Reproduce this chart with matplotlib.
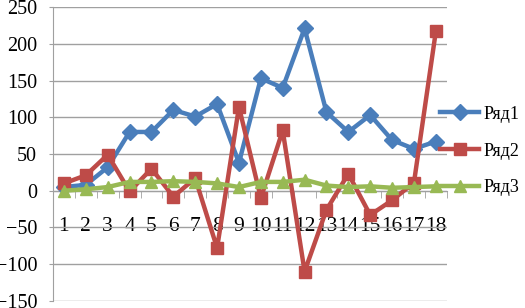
import matplotlib.pyplot as plt
from matplotlib.ticker import MultipleLocator, FixedLocator

categories = [str(i) for i in range(1, 19)]
row1 = [5, 8, 32, 80, 80, 110, 101, 118, 38, 153, 140, 221, 107, 80, 103, 69, 57, 67]
row2 = [10, 21, 49, -1, 30, -8, 17, -78, 114, -10, 82, -110, -26, 23, -33, -13, 11, 217]
row3 = [0, 2, 5, 12, 12, 13, 12, 10, 5, 12, 12, 15, 7, 5, 6, 4, 5, 6]
series_names = ["Ряд1", "Ряд2", "Ряд3"]

plt.rcParams["font.family"] = ["Liberation Serif", "DejaVu Serif"]

fig = plt.figure(figsize=(5.25, 3.08), dpi=100)
ax = fig.add_axes([0.101, 0.023, 0.750, 0.954])

x = list(range(len(categories)))
ax.plot(x, row1, color="#4A7EBB", lw=3.2, marker="D", ms=8, label=series_names[0], zorder=3)
ax.plot(x, row2, color="#BE4B48", lw=3.2, marker="s", ms=9, label=series_names[1], zorder=4)
ax.plot(x, row3, color="#98B954", lw=3.2, marker="^", ms=9, label=series_names[2], zorder=5)

ax.set_xlim(-0.5, len(categories) - 0.5)
ax.set_ylim(-150, 250)
ax.yaxis.set_major_locator(MultipleLocator(50))
ax.grid(axis="y", color="#A0A0A0", lw=1)
ax.set_axisbelow(True)

for s in ["top", "right"]:
    ax.spines[s].set_visible(False)
ax.spines["left"].set_color("#A0A0A0")
ax.spines["bottom"].set_color("#A0A0A0")
ax.spines["bottom"].set_position(("data", 0))

ax.set_xticks(x)
ax.set_xticklabels(categories, fontsize=15.5)
ax.xaxis.set_minor_locator(FixedLocator([i + 0.5 for i in range(-1, len(categories))]))
ax.tick_params(axis="x", which="major", length=0, pad=19)
ax.tick_params(axis="x", which="minor", length=5, color="#A0A0A0", direction="out")
ax.tick_params(axis="y", length=3, color="#A0A0A0", labelsize=14.5, pad=8.5)

ax.legend(loc="center left", bbox_to_anchor=(0.982, 0.51), frameon=False, fontsize=13,
          handlelength=2.2, handletextpad=0.25, labelspacing=1.1, borderpad=0,
          borderaxespad=0)

fig.savefig("out.png", dpi=100)
